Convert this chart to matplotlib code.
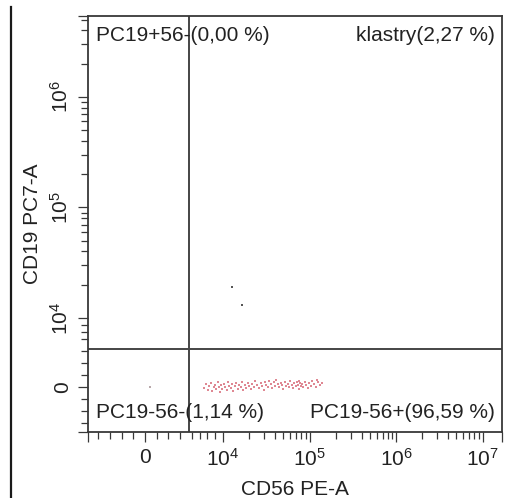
import matplotlib

matplotlib.use("Agg")

import matplotlib.pyplot as plt
from matplotlib.lines import Line2D
from matplotlib.ticker import FixedLocator, FixedFormatter, NullFormatter

plt.rcParams["font.family"] = ["Liberation Sans", "DejaVu Sans"]
plt.rcParams["mathtext.fontset"] = "custom"
plt.rcParams["mathtext.rm"] = "Liberation Sans"
plt.rcParams["mathtext.it"] = "Liberation Sans:italic"
plt.rcParams["mathtext.bf"] = "Liberation Sans:bold"

# events: x = CD56 PE-A, y = CD19 PC7-A
cd56_main = [
    7560, 7820, 8080, 8210, 8460, 8590, 8850, 8970, 9100, 9360,
    9490, 9620, 9740, 9870, 10300, 10500, 11100, 11400, 11700, 12400,
    12700, 13000, 13800, 14100, 14900, 15300, 16200, 16600, 17000, 18000,
    18400, 19400, 20000, 21100, 21600, 22800, 23400, 24700, 26100, 27500,
    28200, 29800, 30600, 31400, 33100, 34000, 35900, 36900, 38900, 39900,
    41000, 43200, 44400, 46800, 48100, 49400, 52100, 53500, 56400, 57900,
    59500, 62800, 64500, 66200, 69800, 71700, 73600, 75600, 77700, 79800,
    75600, 81900, 84100, 88700, 91100, 96100, 98700, 104000, 107000, 113000,
    119000, 125000, 132000, 140000, 122000,
]
cd19_main = [
    -145, 435, -435, 145, 580, -580, 0, 290, -290, 725,
    0, -725, 290, -290, 435, 0, -435, 725, 145, -145,
    435, -580, 145, 580, -290, 290, 0, 725, -435, 290,
    -145, 580, 145, -290, 435, 0, 870, 290, -145, 580,
    145, -435, 725, 290, 0, 870, 435, -145, 725, 145,
    1015, 435, 0, 580, 290, -290, 725, 145, 435, 0,
    870, 290, -145, 580, 145, 725, 290, -290, 580, 145,
    870, 435, 0, 725, 290, -145, 580, 145, 870, 435,
    0, 725, 290, 580, 1015,
]
cd56_neg = [640]
cd19_neg = [0]
cd56_klastry = [12700, 16600]
cd19_klastry = [19100, 13100]

gate_cd56 = 5640
gate_cd19 = 5500

x_major = [0, 1e4, 1e5, 1e6, 1e7]
x_major_labels = ["0", "$10^{4}$", "$10^{5}$", "$10^{6}$", "$10^{7}$"]
y_major = [0, 1e4, 1e5, 1e6]
y_major_labels = ["0", "$10^{4}$", "$10^{5}$", "$10^{6}$"]

x_lim = (-7300, 1.68e7)
y_lim = (-6520, 5.4e6)

total = len(cd56_main) + len(cd56_neg) + len(cd56_klastry)


def pct(n):
    return f"{100 * n / total:.2f}".replace(".", ",")


labels = {
    "ul": f"PC19+56-({pct(0)} %)",
    "ur": f"klastry({pct(len(cd56_klastry))} %)",
    "ll": f"PC19-56-({pct(len(cd56_neg))} %)",
    "lr": f"PC19-56+({pct(len(cd56_main))} %)",
}

ink = "#222222"
frame = "#383838"

fig = plt.figure(figsize=(5.3, 4.98), dpi=100)
ax = fig.add_axes([88 / 530, 66 / 498, 414 / 530, 416 / 498])

ax.set_xscale("symlog", linthresh=1e4, linscale=0.812)
ax.set_yscale("symlog", linthresh=1e4, linscale=0.562)
ax.set_xlim(*x_lim)
ax.set_ylim(*y_lim)

ax.scatter(cd56_main, cd19_main, s=3, marker="s", color="#d86a78", alpha=0.8, linewidths=0, zorder=3)
ax.scatter(cd56_neg, cd19_neg, s=3, marker="s", color="#b8a8aa", linewidths=0, zorder=3)
ax.scatter(cd56_klastry, cd19_klastry, s=3, marker="s", color="#555555", linewidths=0, zorder=3)

ax.axvline(gate_cd56, color="#454545", lw=1.4, zorder=2)
ax.axhline(gate_cd19, color="#454545", lw=1.4, zorder=2)

# ticks: majors plus unlabelled ticks at both axis ends
ax.xaxis.set_major_locator(FixedLocator([x_lim[0]] + x_major + [x_lim[1]]))
ax.xaxis.set_major_formatter(FixedFormatter([""] + x_major_labels + [""]))
ax.yaxis.set_major_locator(FixedLocator([y_lim[0]] + y_major + [y_lim[1]]))
ax.yaxis.set_major_formatter(FixedFormatter([""] + y_major_labels + [""]))

log_minor = [m * 10 ** k for k in (4, 5, 6) for m in range(2, 10)]
x_minor = [-6000, -4500, -3000, -1500, 1500, 3000, 4500, 6000, 7000, 8000, 9000] + log_minor
y_minor = [-5250, -3500, -1750, 1750, 3500, 5250, 7000, 8000, 9000] + log_minor
ax.xaxis.set_minor_locator(FixedLocator(x_minor))
ax.yaxis.set_minor_locator(FixedLocator(y_minor))
ax.xaxis.set_minor_formatter(NullFormatter())
ax.yaxis.set_minor_formatter(NullFormatter())

ax.tick_params(which="major", direction="out", length=7.5, width=0.9, color=frame,
               labelsize=15, labelcolor=ink, pad=4)
ax.tick_params(which="minor", direction="out", length=5, width=0.9, color=frame)
for lab in ax.get_yticklabels():
    lab.set_rotation(90)
    lab.set_va("center")

for sp in ax.spines.values():
    sp.set_color(frame)
    sp.set_linewidth(1.3)

ax.set_xlabel("CD56 PE-A", fontsize=15, color=ink)
ax.set_ylabel("CD19 PC7-A", fontsize=15, color=ink)
ax.xaxis.set_label_coords(0.5, -0.115)
ax.yaxis.set_label_coords(-0.111, 0.5)

txt = dict(fontsize=15, color=ink, transform=ax.transAxes, va="center", zorder=4)
ax.text(0.019, 0.952, labels["ul"], ha="left", **txt)
ax.text(0.983, 0.952, labels["ur"], ha="right", **txt)
ax.text(0.019, 0.046, labels["ll"], ha="left", **txt)
ax.text(0.983, 0.046, labels["lr"], ha="right", **txt)

# panel border at the far left of the screenshot
fig.add_artist(Line2D([10.5 / 530, 10.5 / 530], [0, 1 - 7 / 498], transform=fig.transFigure,
                      color="#1a1a1a", lw=1.6))

fig.savefig("out.png", dpi=100)
